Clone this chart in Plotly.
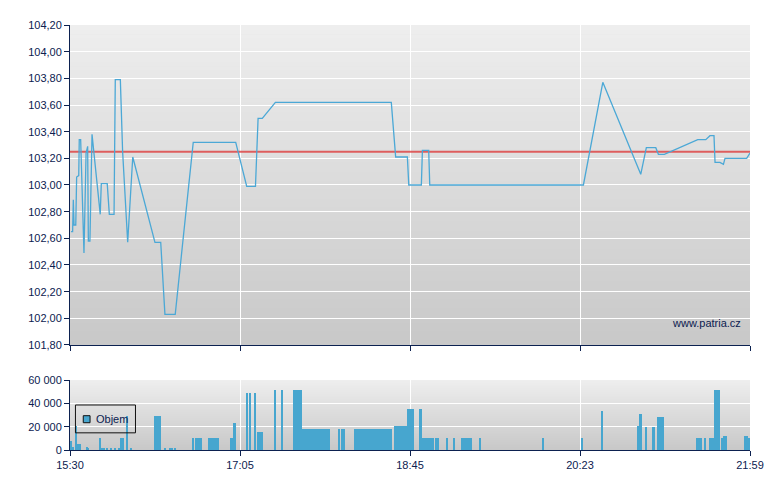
import plotly.graph_objects as go

# ---------------- data ----------------
# x positions are minutes after 15:30 (session 15:30 - 21:59)
price_min = [0.6, 1.5, 1.9, 2.3, 3.3, 3.8, 5.0, 5.3, 6.1, 8.0, 9.2, 10.1, 10.5, 11.4, 12.6,
             17.3, 17.9, 21.3, 22.5, 25.2, 25.9, 28.8, 30.1, 33.0, 35.9, 48.6, 51.9, 54.3,
             60.2, 70.5, 94.8, 101.1, 106.1, 107.6, 110.0, 117.5, 183.8, 186.3, 193.0,
             193.8, 201.0, 201.6, 205.2, 205.8, 293.7, 304.8, 326.5, 329.7, 335.1, 336.6,
             340.0, 359.1, 363.7, 366.1, 368.4, 369.0, 371.8, 373.8, 374.7, 387.1, 389.0]
price_val = [102.65, 102.65, 102.89, 102.70, 102.70, 103.06, 103.07, 103.34, 103.34, 102.49,
             103.24, 103.29, 102.58, 102.58, 103.38, 102.78, 103.01, 103.01, 102.78, 102.78,
             103.79, 103.79, 103.25, 102.57, 103.21, 102.57, 102.57, 102.03, 102.03, 103.32,
             103.32, 102.99, 102.99, 103.50, 103.50, 103.62, 103.62, 103.21, 103.21, 103.00,
             103.00, 103.26, 103.26, 103.00, 103.00, 103.77, 103.08, 103.28, 103.28, 103.23,
             103.23, 103.34, 103.34, 103.37, 103.37, 103.17, 103.17, 103.155, 103.20, 103.20,
             103.24]
reference_price = 103.25

vol_start = [0.3, 1.4, 2.9, 3.8, 4.7, 9.2, 10.1, 16.6, 17.6, 20.6, 22.9, 25.5, 27.2, 28.8,
             31.9, 34.5, 48.1, 53.6, 56.6, 59.7, 69.8, 71.5, 78.9, 91.5, 93.2, 93.8, 100.7,
             102.4, 105.3, 107.0, 116.7, 120.5, 127.6, 132.7, 153.3, 155.0, 162.5, 185.3,
             192.8, 199.7, 201.4, 208.8, 215.1, 219.1, 223.7, 233.9, 270.0, 292.3, 303.8,
             324.9, 325.9, 329.0, 333.5, 335.8, 358.1, 362.7, 365.5, 368.4, 372.3, 373.5,
             385.6, 388.4]
vol_end = [1.4, 2.3, 3.8, 4.7, 6.1, 10.1, 10.9, 17.6, 20.2, 21.7, 23.7, 26.3, 28.6, 30.7,
           33.2, 35.6, 52.1, 54.9, 58.8, 60.8, 70.9, 75.3, 85.2, 92.7, 93.8, 94.9, 101.8,
           103.5, 106.4, 110.4, 117.8, 121.8, 132.7, 148.7, 154.5, 157.3, 184.2, 192.8,
           196.8, 201.4, 208.2, 211.1, 216.2, 220.2, 230.0, 235.1, 271.2, 293.5, 304.9,
           325.9, 327.0, 330.1, 334.6, 339.8, 361.5, 363.8, 368.4, 371.8, 373.5, 375.8,
           387.9, 389.0]
vol_val = [7700, 3000, 21000, 5000, 5000, 3000, 1000, 10500, 1000, 1000, 1000, 1000, 1000,
           10500, 29000, 1000, 29500, 1000, 2000, 1000, 10500, 10500, 10500, 10500, 10500,
           23500, 49000, 49000, 49000, 15500, 51500, 51500, 51500, 18200, 18200, 18200,
           18200, 20800, 35300, 35300, 10500, 10500, 10500, 10500, 10500, 10500, 10500,
           10500, 33600, 20800, 31000, 20000, 20000, 28400, 10500, 10500, 10500, 51500,
           10500, 12200, 12200, 10500]

x_tick_min = [0, 97.25, 194.5, 291.75, 389]
x_tick_text = ["15:30", "17:05", "18:45", "20:23", "21:59"]
price_ticks = [101.8 + 0.2 * i for i in range(13)]
vol_ticks = [0, 20000, 40000, 60000]
vol_tick_text = ["0", "20 000", "40 000", "60 000"]

# ---------------- style ----------------
NAVY = "#0c2150"
LINE = "#4ba8d6"
BAR = "#47a6cf"
FONT = dict(family="Liberation Sans, Arial, sans-serif", size=11, color=NAVY)

fig = go.Figure()

# reference price line (drawn under the price line)
fig.add_trace(go.Scatter(x=[x_tick_min[0], x_tick_min[-1]],
                         y=[reference_price, reference_price], mode="lines",
                         line=dict(color="rgba(222,70,70,0.85)", width=2),
                         xaxis="x", yaxis="y", showlegend=False, hoverinfo="skip"))

fig.add_trace(go.Scatter(x=price_min, y=price_val, mode="lines",
                         line=dict(color=LINE, width=1.3), xaxis="x", yaxis="y",
                         showlegend=False, hoverinfo="x+y"))

widths = [e - s for s, e in zip(vol_start, vol_end)]
fig.add_trace(go.Bar(x=vol_start, y=vol_val, width=widths, offset=0,
                     marker=dict(color=BAR, line=dict(width=0)),
                     xaxis="x2", yaxis="y2", showlegend=False, name="Objem"))

shapes = []
N = 70
for ax_x, ax_y in (("x", "y"), ("x2", "y2")):
    for i in range(N):
        t = i / N
        c = int(round(238 - (238 - 200) * (t + 0.5 / N)))
        shapes.append(dict(type="rect", xref=f"{ax_x} domain", yref=f"{ax_y} domain",
                           x0=0, x1=1, y0=max(0, 1 - (i + 1) / N - 0.002), y1=1 - i / N,
                           fillcolor=f"rgb({c},{c},{c})", line=dict(width=0),
                           layer="below"))

# manual legend box
shapes.append(dict(type="rect", xref="paper", yref="paper",
                   x0=0.008, x1=0.0963, y0=0.0404, y1=0.1059,
                   line=dict(color="#111111", width=1), fillcolor="rgba(0,0,0,0)",
                   layer="above"))
shapes.append(dict(type="rect", xref="paper", yref="paper",
                   x0=0.0195, x1=0.0295, y0=0.0642, y1=0.0807,
                   line=dict(color="#111111", width=1), fillcolor=BAR, layer="above"))

annotations = [
    dict(text="Objem", xref="paper", yref="paper", x=0.0355, y=0.0725,
         xanchor="left", yanchor="middle", showarrow=False, font=FONT),
    dict(text="www.patria.cz", xref="paper", yref="paper", x=0.99, y=0.2995,
         xanchor="right", yanchor="middle", showarrow=False, font=FONT),
]

axis_common = dict(showline=True, linecolor=NAVY, linewidth=1, ticks="outside",
                   tickcolor=NAVY, ticklen=5, tickwidth=1, zeroline=False,
                   gridcolor="white", gridwidth=1, tickfont=FONT, automargin=False)

# page body has an 8px default margin, so the figure is sized to fit the window
fig.update_layout(
    width=772, height=482,
    margin=dict(l=62, r=30, t=17, b=40, autoexpand=False),
    paper_bgcolor="white", plot_bgcolor="#dcdcdc",
    font=FONT, showlegend=False, bargap=0,
    xaxis=dict(domain=[0, 1], anchor="y", range=[0, 389], tickmode="array",
               tickvals=x_tick_min, ticktext=x_tick_text, showticklabels=False,
               showgrid=True, **axis_common),
    yaxis=dict(domain=[0.2471, 1], anchor="x", range=[101.8, 104.2], tickmode="array",
               tickvals=price_ticks,
               ticktext=[f"{v:.2f}".replace(".", ",") for v in price_ticks],
               showgrid=True, **axis_common),
    xaxis2=dict(domain=[0, 1], anchor="y2", range=[0, 389], matches="x", tickmode="array",
                tickvals=x_tick_min, ticktext=x_tick_text, showgrid=True, **axis_common),
    yaxis2=dict(domain=[0, 0.1647], anchor="x2", range=[0, 60000], tickmode="array",
                tickvals=vol_ticks, ticktext=vol_tick_text, showgrid=True, **axis_common),
    shapes=shapes, annotations=annotations,
)

fig.write_html("out.html")
